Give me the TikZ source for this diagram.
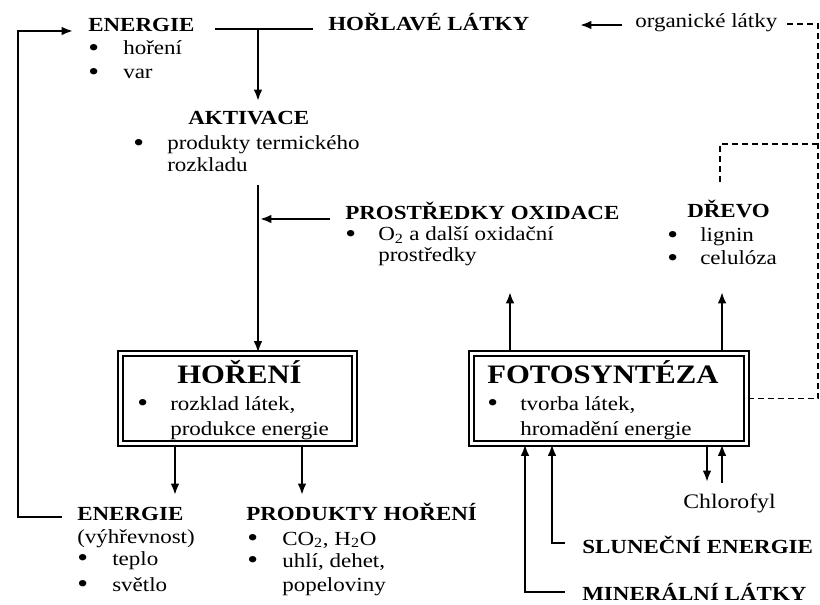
\documentclass[tikz,border=0pt]{standalone}
\usepackage{fontspec}
\setmainfont{Liberation Serif}[FakeStretch=1.15]
\usetikzlibrary{arrows.meta}
\newcommand\myitem[2]{\makebox[#1][l]{\smash{\raisebox{-0.8pt}{\fontsize{20}{20}\selectfont\textbullet}}}#2}
\begin{document}
\begin{tikzpicture}[x=0.75pt,y=-0.75pt,
  txt/.style={anchor=base west, inner sep=0pt, font=\fontsize{15}{18}\selectfont},
  hd/.style={anchor=base west, inner sep=0pt, font=\fontsize{15}{18}\selectfont\bfseries},
  ttl/.style={anchor=base west, inner sep=0pt, font=\fontsize{20}{24}\selectfont\bfseries},
  dbox/.style={draw, double, line width=1.5pt, double distance=2.2pt, inner sep=0pt},
  ln/.style={line width=1.6pt},
  arr/.style={line width=1.6pt, -{Latex[length=8.5pt,width=6.5pt]}},
  dsh/.style={line width=1.3pt, dash pattern=on 4.5pt off 3pt}]
\useasboundingbox (0,0) rectangle (820,605);

% texts
\node[hd] (energieT) at (88,32) {ENERGIE};
\node[txt] (energieT1) at (88,55) {\myitem{26.25pt}{hoření}};
\node[txt] (energieT2) at (88,79) {\myitem{26.25pt}{var}};
\node[hd] (horlave) at (328,31) {HOŘLAVÉ LÁTKY};
\node[txt] (organ) at (635,28) {organické látky};
\node[hd] (aktiv) at (188,125) {AKTIVACE};
\node[txt] (aktiv1) at (133,150) {\myitem{25.5pt}{produkty termického}};
\node[txt] (aktiv2) at (167,172) {rozkladu};
\node[hd] (prost) at (345,220) {PROSTŘEDKY OXIDACE};
\node[txt] (prost1) at (345,241) {\myitem{24.75pt}{O\textsubscript{2} a další oxidační}};
\node[txt] (prost2) at (378,262) {prostředky};
\node[hd] (drevo) at (687,218) {DŘEVO};
\node[txt] (drevo1) at (667,242) {\myitem{24.75pt}{lignin}};
\node[txt] (drevo2) at (667,265) {\myitem{24.75pt}{celulóza}};

% boxes
\node[dbox, minimum width=175.5pt, minimum height=67.5pt] (horeni) at (237.5,398.5) {};
\node[dbox, minimum width=206.25pt, minimum height=67.5pt] (foto) at (609,398.5) {};
\node[ttl] (horeniT) at (177,383) {HOŘENÍ};
\node[txt] (horeni1) at (137,410) {\myitem{24.75pt}{rozklad látek,}};
\node[txt] (horeni2) at (170,435) {produkce energie};
\node[ttl] (fotoT) at (487,383) {FOTOSYNTÉZA};
\node[txt] (foto1) at (487,410) {\myitem{24.75pt}{tvorba látek,}};
\node[txt] (foto2) at (520,435) {hromadění energie};

\node[hd] (energieB) at (77,520) {ENERGIE};
\node[txt] (energieB0) at (77,543) {(výhřevnost)};
\node[txt] (energieB1) at (77,565) {\myitem{26.25pt}{teplo}};
\node[txt] (energieB2) at (77,591) {\myitem{26.25pt}{světlo}};
\node[hd] (produkty) at (246,520) {PRODUKTY HOŘENÍ};
\node[txt] (produkty1) at (247,545) {\myitem{26.25pt}{CO\textsubscript{2}, H\textsubscript{2}O}};
\node[txt] (produkty2) at (247,567) {\myitem{26.25pt}{uhlí, dehet,}};
\node[txt] (produkty3) at (282,591) {popeloviny};
\node[txt, font=\fontsize{15.5}{18}\selectfont] (chloro) at (683,508) {Chlorofyl};
\node[hd] (slunce) at (582,553) {SLUNEČNÍ ENERGIE};
\node[hd] (mineral) at (582,600) {MINERÁLNÍ LÁTKY};

% coordinates
\coordinate (a1) at (215,29);
\coordinate (a2) at (313,29);
\coordinate (a3) at (258,29);
\coordinate (a4) at (258,101);
\coordinate (b1) at (258,185);
\coordinate (p1) at (330,219);
\coordinate (p2) at (260,219);
\coordinate (f1) at (62,517);
\coordinate (f2) at (18,517);
\coordinate (f3) at (18,31);
\coordinate (f4) at (73,31);
\coordinate (o1) at (622,25);
\coordinate (o2) at (580,25);
\coordinate (d0) at (785,24);
\coordinate (d1) at (818,24);
\coordinate (d2) at (818,398.5);
\coordinate (e1) at (720,182);
\coordinate (e2) at (720,144);
\coordinate (e3) at (818,144);
\coordinate (u1) at (510,292);
\coordinate (u2) at (722,292);
\coordinate (h1) at (175,495);
\coordinate (h2) at (302,495);
\coordinate (s1) at (565,543);
\coordinate (s2) at (552,543);
\coordinate (m1) at (565,592);
\coordinate (m2) at (525,592);
\coordinate (c1) at (707,482);
\coordinate (c2) at (722,483);

% connectors
\draw[ln] (a1) -- (a2);
\draw[arr] (a3) -- (a4);
\draw[arr] (b1) -- (b1 |- horeni.north);
\draw[arr] (p1) -- (p2);
\draw[arr] (f1) -- (f2) -- (f3) -- (f4);
\draw[arr] (o1) -- (o2);
\draw[dsh] (foto.east) -- (d2) -- (d1) -- (d0);
\draw[dsh] (e1) -- (e2) -- (e3);
\draw[arr] (u1 |- foto.north) -- (u1);
\draw[arr] (u2 |- foto.north) -- (u2);
\draw[arr] (h1 |- horeni.south) -- (h1);
\draw[arr] (h2 |- horeni.south) -- (h2);
\draw[arr] (s1) -- (s2) -- (s2 |- foto.south);
\draw[arr] (m1) -- (m2) -- (m2 |- foto.south);
\draw[arr] (c1 |- foto.south) -- (c1);
\draw[arr] (c2) -- (c2 |- foto.south);
\end{tikzpicture}
\end{document}
